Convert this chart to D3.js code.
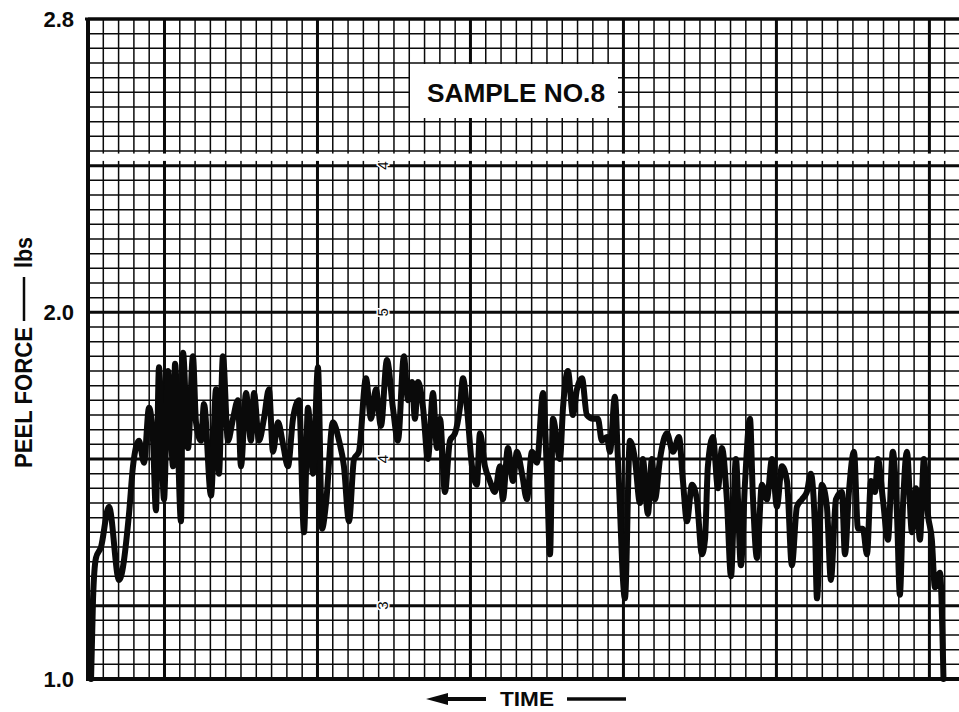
<!DOCTYPE html>
<html><head><meta charset="utf-8">
<script src="https://cdn.jsdelivr.net/npm/d3@7"></script>
<style>html,body{margin:0;padding:0;background:#fff;} svg{display:block}</style>
</head><body><svg id="chart" width="959" height="712"></svg>
<script>
// ---- DATA ----
// time in chart-paper divisions
const timeDiv = [
 0.2,0.33,0.52,0.85,1.37,2.03,2.68,2.94,3.33,3.66,3.99,4.25,4.44,4.64,4.97,5.23,5.56,5.69,6.08,6.21,
 6.54,6.86,7.06,7.39,7.58,8.04,8.37,8.56,8.82,9.15,9.48,9.8,10.0,10.33,10.65,10.85,11.18,11.5,11.83,12.09,
 12.42,12.75,13.07,13.4,13.79,14.12,14.38,14.71,15.03,15.3,15.56,16.01,16.41,16.73,17.06,17.39,17.71,18.17,18.5,18.82,
 19.15,19.54,19.93,20.26,20.65,20.92,21.18,21.37,21.57,21.9,22.22,22.55,22.81,23.01,23.33,23.66,23.99,24.31,24.51,24.77,
 25.1,25.42,25.62,25.95,26.27,26.6,26.93,27.12,27.45,27.78,28.04,28.37,28.69,29.02,29.35,29.74,30.0,30.2,30.39,30.85,
 31.05,31.37,31.7,31.96,32.29,32.61,33.01,33.33,33.59,33.92,34.12,34.44,34.64,35.1,35.42,35.75,36.08,36.27,36.6,36.86,
 37.06,37.39,37.84,38.24,38.63,38.89,39.15,39.48,39.8,40.13,40.33,40.52,40.85,41.18,41.44,41.76,42.03,42.35,42.68,42.94,
 43.27,43.46,43.73,44.05,44.38,44.71,45.03,45.36,45.69,46.01,46.34,46.67,46.99,47.25,47.52,47.65,47.97,48.3,48.56,48.89,
 49.28,49.48,49.74,50.07,50.33,50.65,50.92,51.18,51.44,51.63,51.96,52.29,52.61,52.88,53.07,53.27,53.53,53.86,54.12,54.38,
 54.64,54.9,55.16,55.36,55.69,55.92
];
// peel force in lbs
const peelForce = [
 1.00,1.22,1.33,1.36,1.47,1.27,1.45,1.58,1.65,1.59,1.74,1.65,1.46,1.85,1.49,1.84,1.58,1.86,1.43,1.89,
 1.63,1.88,1.70,1.65,1.75,1.50,1.79,1.56,1.88,1.65,1.71,1.76,1.58,1.78,1.65,1.78,1.65,1.71,1.79,1.62,
 1.70,1.64,1.58,1.71,1.76,1.40,1.74,1.56,1.85,1.41,1.48,1.70,1.65,1.58,1.43,1.60,1.62,1.82,1.71,1.79,
 1.69,1.87,1.74,1.65,1.88,1.76,1.81,1.71,1.81,1.74,1.60,1.78,1.63,1.71,1.51,1.65,1.67,1.74,1.82,1.74,
 1.58,1.53,1.67,1.58,1.54,1.51,1.58,1.49,1.63,1.54,1.62,1.56,1.49,1.62,1.59,1.78,1.56,1.34,1.71,1.60,
 1.74,1.84,1.72,1.79,1.82,1.72,1.71,1.71,1.65,1.66,1.62,1.77,1.60,1.22,1.65,1.60,1.48,1.60,1.45,1.60,
 1.49,1.60,1.67,1.62,1.66,1.54,1.43,1.53,1.49,1.34,1.38,1.58,1.66,1.52,1.63,1.49,1.28,1.60,1.31,1.53,
 1.71,1.50,1.33,1.53,1.49,1.60,1.47,1.58,1.54,1.31,1.47,1.49,1.51,1.56,1.41,1.22,1.53,1.47,1.27,1.49,
 1.51,1.34,1.51,1.62,1.41,1.41,1.34,1.54,1.51,1.60,1.49,1.38,1.62,1.45,1.23,1.47,1.62,1.40,1.52,1.38,
 1.60,1.45,1.38,1.25,1.29,1.00
];
const yTickValues = [1.0, 2.0, 2.8];
const yTickLabels = ["1.0", "2.0", "2.8"];
const paperMarkValues = [1.2, 1.6, 2.0, 2.4];
const paperMarkLabels = ["3", "4", "5", "4"];
const titleText = "SAMPLE NO.8";
const yTitle = ["PEEL FORCE", "lbs"];
const xTitle = "TIME";

// ---- SCALES ----
const svg = d3.select("#chart");
const x = d3.scaleLinear().domain([0, 57]).range([88, 960]);
const y = d3.scaleLinear().domain([1.0, 2.8]).range([679, 19]);
const ink = "#0a0a0a";
const font = "Liberation Sans, Arial, sans-serif";

svg.append("rect").attr("width", 959).attr("height", 712).attr("fill", "#fff");

svg.append("clipPath").attr("id", "plot").append("rect")
  .attr("x", 86).attr("y", 17).attr("width", 873).attr("height", 665);

const g = svg.append("g").attr("clip-path", "url(#plot)");

// ---- GRID ----
const vLines = d3.range(1, 58);
g.selectAll("line.v").data(vLines).join("line")
  .attr("x1", d => x(d)).attr("x2", d => x(d))
  .attr("y1", y(2.8)).attr("y2", y(1.0))
  .attr("stroke", ink)
  .attr("stroke-width", d => d % 10 === 5 ? 3 : 1.5);

const hLines = d3.range(1, 46);
g.selectAll("line.h").data(hLines).join("line")
  .attr("x1", x(0)).attr("x2", 960)
  .attr("y1", k => y(1 + 0.04 * k)).attr("y2", k => y(1 + 0.04 * k))
  .attr("stroke", ink)
  .attr("stroke-width", k => k % 10 === 5 ? 3 : 1.5);

// splice gap in the chart paper
g.append("rect").attr("x", x(0) + 2).attr("width", 880)
  .attr("y", y(2.433)).attr("height", y(2.413) - y(2.433)).attr("fill", "#fff");

// paper scale marks (printed, rotated)
svg.selectAll("text.mark").data(paperMarkValues).join("text")
  .attr("transform", d => `translate(${x(19) + 9},${y(d)}) rotate(-90)`)
  .attr("text-anchor", "middle")
  .attr("font-family", font)
  .attr("font-size", 15)
  .attr("fill", ink)
  .attr("stroke", "#fff").attr("stroke-width", 3).attr("paint-order", "stroke")
  .text((d, i) => paperMarkLabels[i]);

// axes frame
svg.append("line").attr("x1", x(0)).attr("x2", x(0)).attr("y1", y(2.8) - 1).attr("y2", y(1.0) + 2)
  .attr("stroke", ink).attr("stroke-width", 4);
svg.append("line").attr("x1", x(0) - 2).attr("x2", 959).attr("y1", y(1.0)).attr("y2", y(1.0))
  .attr("stroke", ink).attr("stroke-width", 4);
svg.append("line").attr("x1", x(0) - 3).attr("x2", 959).attr("y1", y(2.8)).attr("y2", y(2.8))
  .attr("stroke", ink).attr("stroke-width", 3.2);

// ---- TITLE BOX ----
svg.append("rect").attr("x", 410).attr("y", 64).attr("width", 208).attr("height", 54).attr("fill", "#fff");
svg.append("text").attr("x", 516).attr("y", 93)
  .attr("text-anchor", "middle").attr("dominant-baseline", "central")
  .attr("font-family", font).attr("font-weight", "bold")
  .attr("font-size", 26).attr("textLength", 178).attr("lengthAdjust", "spacingAndGlyphs")
  .attr("fill", ink).text(titleText);

// ---- TRACE ----
const pts = timeDiv.map((t, i) => [t, peelForce[i]]);
const line = d3.line().x(d => x(d[0])).y(d => y(d[1])).curve(d3.curveMonotoneX);
g.append("path").attr("d", line(pts))
  .attr("fill", "none").attr("stroke", ink).attr("stroke-width", 6)
  .attr("stroke-linejoin", "round").attr("stroke-linecap", "round");

// ---- Y LABELS ----
svg.selectAll("text.yl").data(yTickValues).join("text")
  .attr("x", 74).attr("y", d => y(d))
  .attr("text-anchor", "end").attr("dominant-baseline", "central")
  .attr("font-family", font).attr("font-weight", "bold")
  .attr("font-size", 22).attr("fill", ink)
  .text((d, i) => yTickLabels[i]);

// y title
const yt = svg.append("g").attr("transform", "translate(32,0)");
yt.append("text").attr("transform", "translate(0,468) rotate(-90)")
  .attr("font-family", font).attr("font-weight", "bold")
  .attr("font-size", 23).attr("textLength", 141).attr("lengthAdjust", "spacingAndGlyphs")
  .attr("fill", ink).text(yTitle[0]);
yt.append("line").attr("x1", -8).attr("x2", -8).attr("y1", 321).attr("y2", 277)
  .attr("stroke", ink).attr("stroke-width", 2.5);
yt.append("text").attr("transform", "translate(0,268) rotate(-90)")
  .attr("font-family", font).attr("font-weight", "bold")
  .attr("font-size", 23).attr("textLength", 31).attr("lengthAdjust", "spacingAndGlyphs")
  .attr("fill", ink).text(yTitle[1]);

// ---- X TITLE ----
svg.append("text").attr("x", 527).attr("y", 698)
  .attr("text-anchor", "middle").attr("dominant-baseline", "central")
  .attr("font-family", font).attr("font-weight", "bold")
  .attr("font-size", 21).attr("textLength", 54).attr("lengthAdjust", "spacingAndGlyphs")
  .attr("fill", ink).text(xTitle);
svg.append("line").attr("x1", 440).attr("x2", 486).attr("y1", 699).attr("y2", 699)
  .attr("stroke", ink).attr("stroke-width", 4);
svg.append("path").attr("d", "M426,699 L448,693 L448,705 Z").attr("fill", ink);
svg.append("line").attr("x1", 567).attr("x2", 626).attr("y1", 699).attr("y2", 699)
  .attr("stroke", ink).attr("stroke-width", 3.5);
</script>
</body></html>
